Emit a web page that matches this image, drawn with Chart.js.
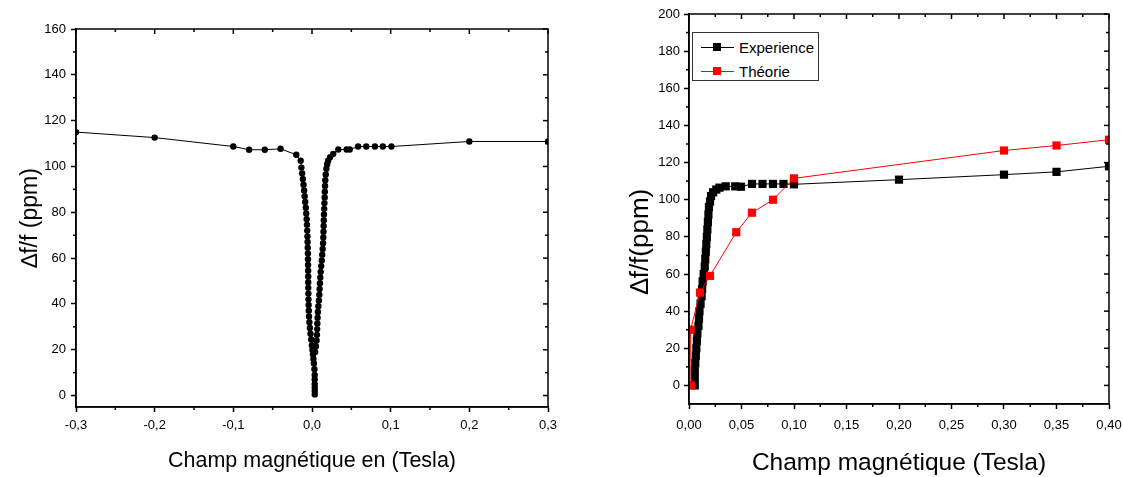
<!DOCTYPE html>
<html>
<head>
<meta charset="utf-8">
<script src="https://cdn.jsdelivr.net/npm/chart.js@4.4.1/dist/chart.umd.min.js"></script>
<style>
  body { margin: 0; background: #fff; width: 1123px; height: 477px; overflow: hidden; position: relative; }
  canvas { position: absolute; top: 0; }
  #left-chart { left: 0; }
  #right-chart { left: 565px; }
  #legend { position: absolute; border: 1px solid #333; background: #fff; box-sizing: border-box; padding: 2px 0 0 8px; }
  #legend .row { height: 24px; display: flex; align-items: center; color: #000; white-space: nowrap; }
  #legend .key { position: relative; width: 33px; height: 12px; margin-right: 5px; }
  #legend .key .ln { position: absolute; left: 0; right: 0; top: 6px; height: 1px; }
  #legend .key .sq { position: absolute; left: 12px; top: 2px; width: 8px; height: 8px; }
</style>
</head>
<body>
<canvas id="left-chart" width="565" height="477"></canvas>
<canvas id="right-chart" width="558" height="477"></canvas>
<div id="legend"></div>
<script>
const FONT = '"Liberation Sans", Arial, sans-serif'

// ---- left plot: full field sweep -0.3 T .. +0.3 T ----
let sweepField = [-0.300, -0.200, -0.100, -0.080, -0.060, -0.040, -0.020,
    -0.0144, -0.0135, -0.0125, -0.0116, -0.0108, -0.0100, -0.0093, -0.0086, -0.0079, -0.0073,
    -0.0068, -0.0064, -0.0061, -0.0058, -0.0056, -0.0054, -0.0052, -0.0051, -0.0050, -0.0049,
    -0.0048, -0.0048, -0.0047, -0.0046, -0.0045, -0.0043, -0.0041, -0.0038, -0.0033, -0.0027,
    -0.0019, -0.0010, -0.0002, 0.0006, 0.0012, 0.0018, 0.0024, 0.0031, 0.0034, 0.0034, 0.0034,
    0.0035, 0.0035, 0.0035,
    0.0040, 0.0050, 0.0058, 0.0063, 0.0066, 0.0068, 0.0071, 0.0075, 0.0081, 0.0088, 0.0093,
    0.0097, 0.0101, 0.0106, 0.0110, 0.0117, 0.0124, 0.0130, 0.0136, 0.0141, 0.0144, 0.0146,
    0.0148, 0.0150, 0.0152, 0.0155, 0.0158, 0.0161, 0.0163, 0.0166, 0.0169, 0.0175, 0.0183,
    0.0193, 0.0205, 0.0230, 0.0270, 0.0335, 0.0440, 0.0480, 0.0586, 0.0690, 0.0800, 0.0900,
    0.1010, 0.200, 0.300]
let sweepDf = [115.0, 112.6, 108.7, 107.3, 107.3, 107.7, 105.1,
    102.5, 99.5, 97, 94.5, 92, 89.5, 87, 84.5, 82, 79.5,
    77, 74.5, 72, 69.5, 67, 64.5, 62, 59.5, 57, 54.5,
    52, 49.5, 47, 44.5, 42, 39.5, 37, 34.5, 32, 29.5,
    27, 24.5, 22, 20, 18, 16, 14, 11.5, 9, 7, 5,
    3.5, 2, 0.5,
    19, 21.5, 24, 26.5, 29, 31.5, 34, 36.5, 39, 41.5, 44,
    46.5, 49, 51.5, 54, 56.5, 59, 61.5, 64, 66.5, 69, 71.5,
    74, 76.5, 79, 81.5, 84, 86.5, 89, 91.5, 94, 96.5, 99,
    101, 102.5, 104, 105.5, 107.4, 107.4, 107.4, 108.7, 108.7, 108.7, 108.7,
    108.7, 110.9, 110.9]

let leftXTicks = [-0.3, -0.2, -0.1, 0, 0.1, 0.2, 0.3]
let leftXMinor = [-0.25, -0.15, -0.05, 0.05, 0.15, 0.25]
let leftYTicks = [0, 20, 40, 60, 80, 100, 120, 140, 160]
let leftYMinor = [10, 30, 50, 70, 90, 110, 130, 150]

// ---- right plot: experience vs theory, 0 .. 0.4 T ----
let expField = [0.0055, 0.0055, 0.0055, 0.006, 0.0065, 0.007, 0.0075, 0.008, 0.009, 0.0095,
    0.010, 0.011, 0.012, 0.0125, 0.013, 0.014, 0.015, 0.0155, 0.016, 0.0165,
    0.017, 0.0175, 0.018, 0.0185, 0.019, 0.020, 0.021, 0.023, 0.026, 0.029,
    0.035, 0.044, 0.0495, 0.060, 0.070, 0.080, 0.090, 0.100, 0.200, 0.300, 0.350, 0.400]
let expDf = [0, 4, 8, 12, 16, 20, 24, 28, 32, 36,
    40, 44, 48, 52, 56, 60, 64, 68, 72, 76,
    80, 84, 88, 92, 96, 99, 102, 104, 105.5, 106.5,
    107.2, 107.2, 107, 108.5, 108.5, 108.5, 108.5, 108.3, 110.8, 113.5, 115, 118]

let theoField = [0.002, 0.0015, 0.0105, 0.020, 0.045, 0.060, 0.080, 0.100, 0.300, 0.350, 0.400]
let theoDf = [0, 30, 50, 59, 82.5, 93, 100, 111.5, 126.5, 129.2, 132.3]

let rightXTicks = [0, 0.05, 0.10, 0.15, 0.20, 0.25, 0.30, 0.35, 0.40]
let rightXMinor = [0.025, 0.075, 0.125, 0.175, 0.225, 0.275, 0.325, 0.375]
let rightYTicks = [0, 20, 40, 60, 80, 100, 120, 140, 160, 180, 200]
let rightYMinor = [10, 30, 50, 70, 90, 110, 130, 150, 170, 190]


Chart.defaults.font.family = FONT
Chart.defaults.color = '#000'

function pairs(xs, ys) {
    return xs.map((x, i) => ({ x: x, y: ys[i] }))
}

function comma(digits) {
    return v => v.toFixed(digits).replace('.', ',')
}

// frame box + inward ticks on top/right + minor ticks, placed with the chart's own scales
const frameTicks = {
    id: 'frameTicks',
    afterDraw(chart, args, opts) {
        let ctx = chart.ctx
        let a = chart.chartArea
        let xs = chart.scales.x, ys = chart.scales.y
        ctx.save()
        ctx.strokeStyle = '#000'
        ctx.lineWidth = 1.5
        ctx.strokeRect(a.left, a.top, a.right - a.left, a.bottom - a.top)
        let line = (x1, y1, x2, y2) => { ctx.beginPath(); ctx.moveTo(x1, y1); ctx.lineTo(x2, y2); ctx.stroke() }
        opts.xMajor.forEach(v => { let p = xs.getPixelForValue(v); line(p, a.top, p, a.top + 5) })
        opts.xMinor.forEach(v => {
            let p = xs.getPixelForValue(v)
            line(p, a.top, p, a.top + 3)
            line(p, a.bottom, p, a.bottom + 3)
        })
        opts.yMajor.forEach(v => { let p = ys.getPixelForValue(v); line(a.right, p, a.right - 5, p) })
        opts.yMinor.forEach(v => {
            let p = ys.getPixelForValue(v)
            line(a.right, p, a.right - 3, p)
            line(a.left, p, a.left - 3, p)
        })
        ctx.restore()
    }
}

function scale(o) {
    return {
        type: 'linear',
        min: o.min,
        max: o.max,
        afterBuildTicks: s => { s.ticks = o.ticks.map(v => ({ value: v })) },
        afterFit: o.fit,
        grid: { drawOnChartArea: false, tickLength: 5, tickWidth: 1.5, tickColor: '#000' },
        border: { color: '#000', width: 1.5 },
        ticks: { color: '#000', autoSkip: false, maxRotation: 0, callback: o.fmt, font: { size: o.tickSize }, padding: o.pad },
        title: { display: true, text: o.title, color: '#000', font: { size: o.titleSize, lineHeight: 1 }, padding: o.titlePad }
    }
}


// left chart
let leftChart = new Chart(document.querySelector('#left-chart'), {
    type: 'line',
    data: {
        datasets: [{
            data: pairs(sweepField, sweepDf),
            borderColor: '#000',
            borderWidth: 1,
            pointStyle: 'circle',
            pointRadius: 3.2,
            pointBorderWidth: 0,
            pointBackgroundColor: '#000',
            tension: 0
        }]
    },
    options: {
        responsive: false,
        animation: false,
        layout: { padding: { left: 0, right: 17, top: 29, bottom: 0 } },
        plugins: {
            legend: { display: false },
            tooltip: { enabled: false },
            frameTicks: { xMajor: leftXTicks, xMinor: leftXMinor, yMajor: leftYTicks, yMinor: leftYMinor }
        },
        scales: {
            x: scale({ min: -0.3, max: 0.3, ticks: leftXTicks, fmt: comma(1), tickSize: 13, pad: 6,
                title: 'Champ magnétique en (Tesla)', titleSize: 21.5, titlePad: { top: 0, bottom: 5 },
                fit: s => { s.height = 70; s.paddingLeft = 0; s.paddingRight = 0 } }),
            y: scale({ min: -5, max: 160, ticks: leftYTicks, fmt: v => String(v), tickSize: 13, pad: 5,
                title: '\u2206f/f (ppm)', titleSize: 23, titlePad: { top: 19, bottom: 0 },
                fit: s => { s.width = 76 } })
        }
    },
    plugins: [frameTicks]
})


// right chart
let rightChart = new Chart(document.querySelector('#right-chart'), {
    type: 'line',
    data: {
        datasets: [
            {
                label: 'Experience',
                data: pairs(expField, expDf),
                borderColor: '#000',
                backgroundColor: '#000',
                borderWidth: 1,
                pointStyle: 'rect',
                pointRadius: 5.8,
                pointBorderWidth: 0,
                pointBackgroundColor: '#000',
                tension: 0,
                order: 1
            },
            {
                label: 'Théorie',
                data: pairs(theoField, theoDf),
                borderColor: '#ff0000',
                backgroundColor: '#ff0000',
                borderWidth: 1,
                pointStyle: 'rect',
                pointRadius: 5.8,
                pointBorderWidth: 0,
                pointBackgroundColor: '#ff0000',
                tension: 0,
                order: 0
            }
        ]
    },
    options: {
        responsive: false,
        animation: false,
        layout: { padding: { left: 0, right: 14, top: 14, bottom: 0 } },
        plugins: {
            legend: { display: false },
            tooltip: { enabled: false },
            frameTicks: { xMajor: rightXTicks, xMinor: rightXMinor, yMajor: rightYTicks, yMinor: rightYMinor }
        },
        scales: {
            x: scale({ min: 0, max: 0.4, ticks: rightXTicks, fmt: comma(2), tickSize: 13, pad: 9,
                title: 'Champ magnétique (Tesla)', titleSize: 24.5, titlePad: { top: 0, bottom: 2 },
                fit: s => { s.height = 73; s.paddingLeft = 0; s.paddingRight = 0 } }),
            // trailing spaces keep the rotated title sitting lower, as in the original figure
            y: scale({ min: -10, max: 200, ticks: rightYTicks, fmt: v => String(v), tickSize: 13, pad: 4,
                title: '\u2206f/f(ppm)         ', titleSize: 26, titlePad: { top: 63, bottom: 0 },
                fit: s => { s.width = 124 } })
        }
    },
    plugins: [frameTicks]
})


// legend box inside the right plot, built from the datasets
function buildLegend(chart, el, offsetLeft) {
    let a = chart.chartArea
    el.style.left = (offsetLeft + a.left + 3) + 'px'
    el.style.top = (a.top + 18) + 'px'
    el.style.width = '127px'
    el.style.height = '49px'
    el.style.font = '15px ' + FONT
    chart.data.datasets.forEach(ds => {
        let row = document.createElement('div')
        row.className = 'row'
        row.innerHTML = '<span class="key"><span class="ln" style="background:' + ds.borderColor + '"></span>' +
            '<span class="sq" style="background:' + ds.pointBackgroundColor + '"></span></span>' +
            '<span>' + ds.label + '</span>'
        el.appendChild(row)
    })
}
buildLegend(rightChart, document.querySelector('#legend'), 565)
</script>
</body>
</html>
